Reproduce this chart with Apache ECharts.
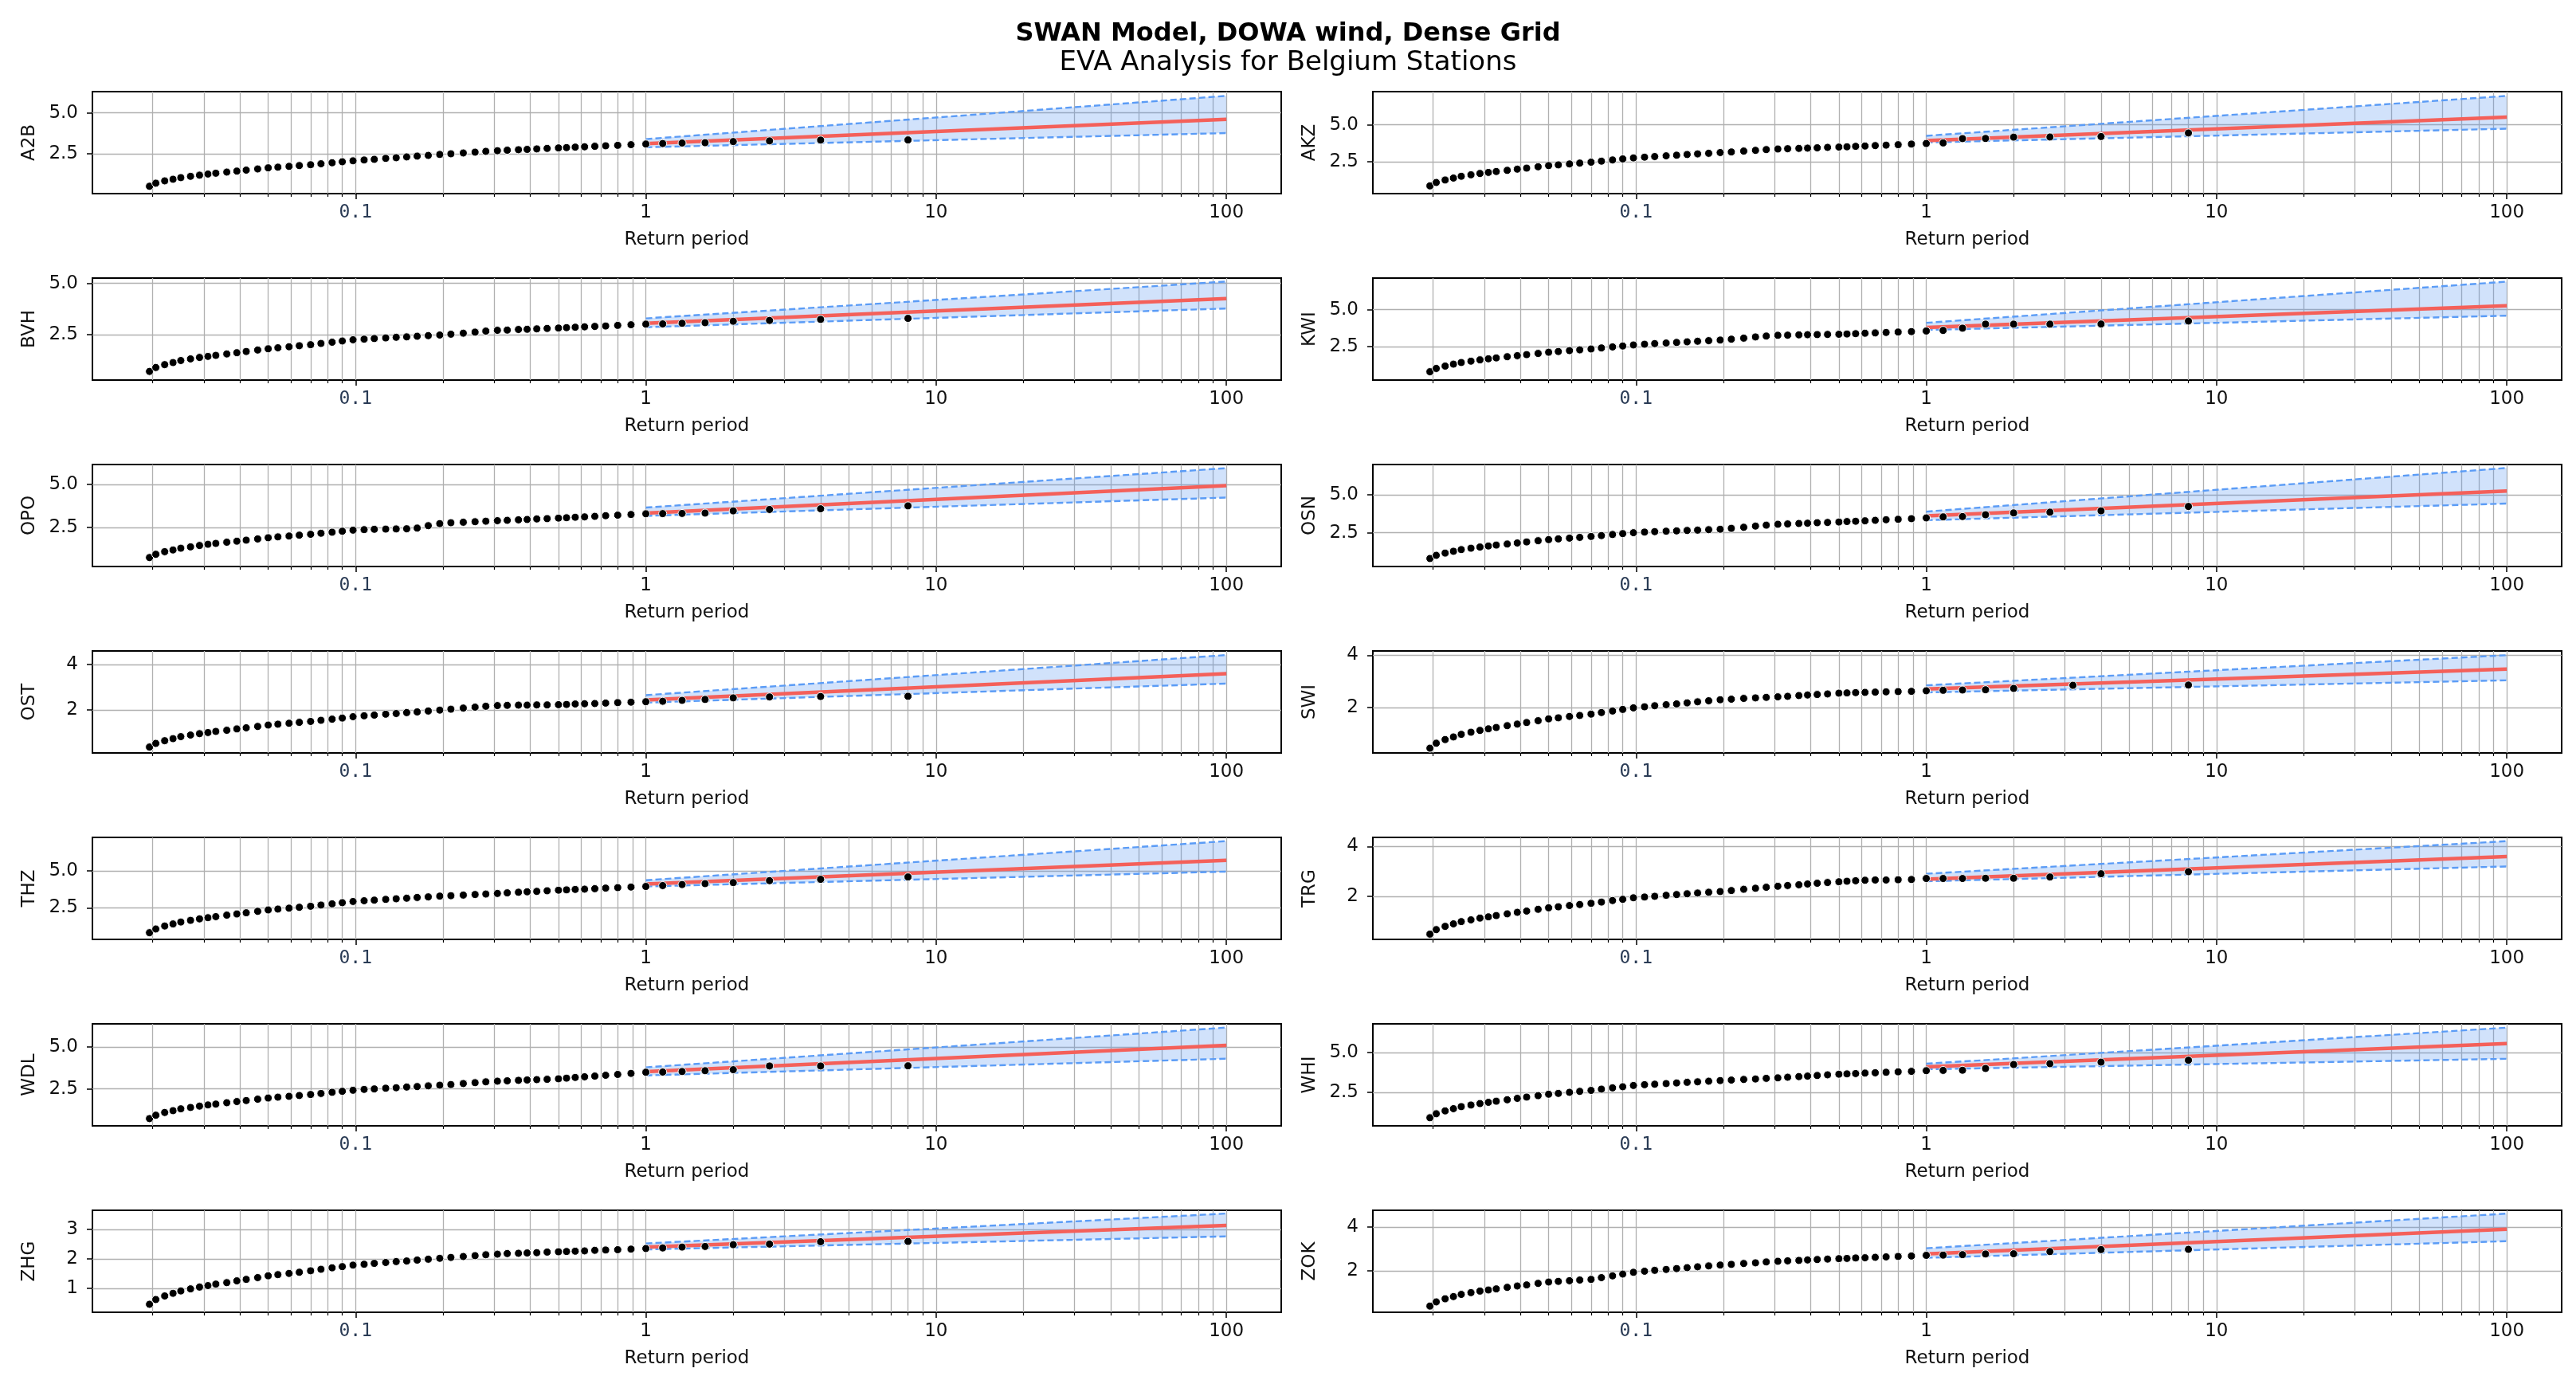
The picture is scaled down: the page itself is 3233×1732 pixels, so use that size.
<!DOCTYPE html>
<html>
<head>
<meta charset="utf-8">
<title>EVA Analysis for Belgium Stations</title>
<script src="https://cdn.jsdelivr.net/npm/echarts@6/dist/echarts.min.js"></script>
<style>
html, body { margin: 0; padding: 0; background: #fff; }
#chart { width: 3233px; height: 1732px; }
</style>
</head>
<body>
<div id="chart"></div>
<script>
// stations, row-major (2 columns)
var stations = ['A2B', 'AKZ', 'BVH', 'KWI', 'OPO', 'OSN', 'OST', 'SWI', 'THZ', 'TRG', 'WDL', 'WHI', 'ZHG', 'ZOK'];

// empirical return periods of the plotted points
var returnPeriods = [
  0.0195, 0.0205, 0.022, 0.0235, 0.025, 0.027, 0.029, 0.031,
  0.033, 0.036, 0.039, 0.042, 0.046, 0.05, 0.054, 0.059,
  0.064, 0.07, 0.076, 0.083, 0.09, 0.098, 0.107, 0.116,
  0.127, 0.138, 0.15, 0.163, 0.178, 0.195, 0.213, 0.235,
  0.258, 0.281, 0.308, 0.333, 0.364, 0.39, 0.421, 0.457,
  0.5, 0.533, 0.571, 0.615, 0.667, 0.727, 0.8, 0.889,
  1, 1.143, 1.333, 1.6, 2, 2.667, 4, 8
];
// SWI has tied ranks 2 and 3
var returnPeriodsSWI = [
  0.0195, 0.0205, 0.022, 0.0235, 0.025, 0.027, 0.029, 0.031,
  0.033, 0.036, 0.039, 0.042, 0.046, 0.05, 0.054, 0.059,
  0.064, 0.07, 0.076, 0.083, 0.09, 0.098, 0.107, 0.116,
  0.127, 0.138, 0.15, 0.163, 0.178, 0.195, 0.213, 0.235,
  0.258, 0.281, 0.308, 0.333, 0.364, 0.39, 0.421, 0.457,
  0.5, 0.533, 0.571, 0.615, 0.667, 0.727, 0.8, 0.889,
  1, 1.143, 1.333, 1.6, 2, 3.2, 3.2, 8
];

var valA2B = [0.50,0.69,0.83,0.93,1.03,1.11,1.18,1.25, 1.30,1.37,1.43,1.49,1.56,1.63,1.67,1.72, 1.77,1.82,1.88,1.94,2.00,2.06,2.11,2.15, 2.21,2.25,2.30,2.35,2.39,2.45,2.49,2.54, 2.59,2.64,2.68,2.71,2.74,2.76,2.79,2.82, 2.85,2.87,2.90,2.92,2.95,2.98,3.01,3.05, 3.09,3.12,3.15,3.17,3.24,3.28,3.33,3.34];
var valAKZ = [0.88,1.11,1.28,1.41,1.53,1.63,1.72,1.79, 1.85,1.93,2.01,2.08,2.17,2.25,2.30,2.36, 2.42,2.48,2.55,2.63,2.70,2.77,2.82,2.86, 2.91,2.95,3.00,3.04,3.08,3.13,3.17,3.23, 3.28,3.33,3.37,3.39,3.41,3.43,3.45,3.48, 3.50,3.52,3.55,3.57,3.60,3.63,3.66,3.70, 3.74,3.78,4.07,4.08,4.17,4.18,4.21,4.45];
var valBVH = [0.72,0.91,1.05,1.15,1.25,1.33,1.40,1.45, 1.50,1.57,1.63,1.69,1.76,1.82,1.87,1.92, 1.97,2.02,2.08,2.14,2.20,2.26,2.29,2.32, 2.35,2.38,2.40,2.43,2.46,2.49,2.53,2.58, 2.63,2.68,2.72,2.73,2.76,2.77,2.79,2.81, 2.83,2.85,2.87,2.89,2.91,2.93,2.96,2.99, 3.02,3.03,3.06,3.09,3.16,3.20,3.25,3.30];
var valKWI = [0.82,1.04,1.20,1.33,1.44,1.53,1.62,1.69, 1.75,1.83,1.90,1.97,2.05,2.13,2.18,2.24, 2.29,2.35,2.42,2.49,2.55,2.62,2.67,2.71, 2.75,2.79,2.83,2.87,2.91,2.95,3.01,3.08, 3.16,3.22,3.27,3.28,3.30,3.31,3.32,3.33, 3.34,3.36,3.38,3.41,3.43,3.46,3.49,3.52, 3.56,3.60,3.75,4.02,4.02,4.02,4.03,4.23];
var valOPO = [0.75,0.94,1.09,1.19,1.29,1.37,1.45,1.52, 1.57,1.64,1.70,1.76,1.83,1.90,1.95,2.00, 2.05,2.10,2.16,2.22,2.28,2.34,2.37,2.39, 2.40,2.41,2.42,2.46,2.60,2.72,2.77,2.80, 2.83,2.86,2.89,2.91,2.94,2.96,2.99,3.01, 3.04,3.06,3.09,3.11,3.14,3.18,3.21,3.25, 3.29,3.30,3.31,3.33,3.46,3.54,3.58,3.75];
var valOSN = [0.79,1.00,1.15,1.27,1.38,1.47,1.55,1.62, 1.68,1.75,1.82,1.89,1.97,2.04,2.09,2.14, 2.19,2.25,2.31,2.38,2.44,2.50,2.54,2.57, 2.60,2.62,2.65,2.67,2.70,2.73,2.79,2.86, 2.94,3.00,3.06,3.08,3.11,3.13,3.16,3.18, 3.21,3.24,3.26,3.29,3.32,3.36,3.39,3.43, 3.48,3.55,3.57,3.69,3.81,3.86,3.95,4.24];
var valOST = [0.36,0.52,0.64,0.73,0.82,0.89,0.95,1.00, 1.05,1.10,1.16,1.21,1.27,1.33,1.37,1.41, 1.45,1.49,1.54,1.59,1.64,1.70,1.74,1.77, 1.81,1.84,1.88,1.91,1.95,1.99,2.03,2.08, 2.12,2.16,2.19,2.20,2.21,2.21,2.22,2.22, 2.23,2.24,2.26,2.27,2.28,2.30,2.32,2.34, 2.36,2.38,2.42,2.46,2.53,2.57,2.59,2.60];
var valSWI = [0.45,0.64,0.78,0.88,0.98,1.06,1.13,1.19, 1.24,1.31,1.37,1.43,1.50,1.57,1.61,1.66, 1.70,1.75,1.81,1.87,1.93,1.99,2.03,2.07, 2.11,2.14,2.18,2.22,2.26,2.30,2.32,2.35, 2.37,2.39,2.41,2.43,2.46,2.48,2.50,2.52, 2.55,2.56,2.57,2.58,2.59,2.60,2.61,2.62, 2.64,2.66,2.67,2.68,2.73,2.85,2.85,2.86];
var valTHZ = [0.83,1.08,1.28,1.42,1.55,1.66,1.76,1.84, 1.91,2.01,2.09,2.17,2.27,2.36,2.42,2.48, 2.54,2.61,2.69,2.77,2.85,2.93,2.98,3.02, 3.07,3.11,3.15,3.20,3.24,3.29,3.32,3.36, 3.40,3.43,3.47,3.51,3.55,3.58,3.61,3.65, 3.69,3.71,3.74,3.76,3.79,3.83,3.86,3.90, 3.94,4.00,4.07,4.13,4.20,4.33,4.42,4.58];
var valTRG = [0.50,0.68,0.81,0.91,1.00,1.07,1.14,1.19, 1.24,1.31,1.37,1.42,1.49,1.55,1.59,1.64, 1.68,1.73,1.78,1.84,1.89,1.95,1.98,2.01, 2.05,2.08,2.11,2.14,2.17,2.20,2.24,2.29, 2.33,2.37,2.41,2.44,2.47,2.50,2.53,2.56, 2.59,2.61,2.63,2.65,2.66,2.66,2.67,2.68, 2.72,2.72,2.72,2.73,2.73,2.78,2.91,2.99];
var valWDL = [0.74,0.94,1.10,1.21,1.32,1.40,1.48,1.55, 1.60,1.68,1.75,1.81,1.89,1.96,2.01,2.06, 2.11,2.17,2.23,2.30,2.36,2.42,2.47,2.50, 2.54,2.57,2.61,2.64,2.68,2.72,2.76,2.82, 2.87,2.92,2.96,2.98,3.01,3.03,3.05,3.07, 3.10,3.14,3.18,3.22,3.26,3.31,3.36,3.42, 3.49,3.50,3.53,3.58,3.64,3.86,3.86,3.87];
var valWHI = [0.90,1.15,1.33,1.47,1.60,1.70,1.79,1.87, 1.94,2.03,2.12,2.20,2.29,2.38,2.43,2.50, 2.56,2.62,2.70,2.78,2.85,2.93,2.98,3.01, 3.05,3.09,3.13,3.16,3.20,3.24,3.27,3.31, 3.34,3.38,3.41,3.45,3.49,3.52,3.56,3.60, 3.64,3.66,3.68,3.71,3.73,3.76,3.79,3.82, 3.86,3.88,3.89,4.00,4.25,4.30,4.40,4.52];
var valZHG = [0.47,0.63,0.75,0.84,0.92,0.99,1.05,1.10, 1.15,1.20,1.26,1.31,1.37,1.43,1.47,1.51, 1.55,1.60,1.65,1.70,1.74,1.79,1.82,1.85, 1.88,1.91,1.93,1.96,1.99,2.02,2.05,2.08, 2.11,2.14,2.16,2.18,2.19,2.20,2.21,2.23, 2.24,2.25,2.26,2.27,2.29,2.30,2.31,2.33, 2.35,2.37,2.40,2.42,2.48,2.50,2.58,2.59];
var valZOK = [0.41,0.60,0.74,0.84,0.94,1.02,1.09,1.14, 1.19,1.26,1.32,1.37,1.44,1.50,1.53,1.56, 1.59,1.62,1.70,1.78,1.86,1.94,1.99,2.03, 2.07,2.11,2.15,2.19,2.23,2.27,2.30,2.34, 2.37,2.41,2.44,2.46,2.48,2.50,2.52,2.54, 2.56,2.57,2.59,2.60,2.62,2.64,2.66,2.68, 2.71,2.72,2.74,2.77,2.78,2.88,2.97,2.98];

// fitted return level and confidence bounds, at T = 1 and T = 100
var fitPeriods = [1, 100];
var fitStart   = [3.11, 3.93, 3.06, 3.80, 3.33, 3.62, 2.44, 2.71, 4.10, 2.69, 3.52, 4.10, 2.40, 2.77];
var fitEnd     = [4.60, 5.52, 4.26, 5.26, 4.92, 5.26, 3.60, 3.47, 5.70, 3.60, 5.08, 5.57, 3.13, 3.89];
var upperStart = [3.39, 4.26, 3.30, 4.11, 3.65, 3.90, 2.65, 2.85, 4.36, 2.91, 3.78, 4.30, 2.52, 3.03];
var upperEnd   = [6.04, 6.95, 5.09, 6.88, 5.94, 6.79, 4.42, 4.00, 6.99, 4.21, 6.14, 6.57, 3.53, 4.60];
var lowerStart = [2.89, 3.81, 2.87, 3.63, 3.17, 3.33, 2.32, 2.58, 3.94, 2.61, 3.30, 3.95, 2.32, 2.60];
var lowerEnd   = [3.76, 4.74, 3.78, 4.59, 4.23, 4.43, 3.16, 3.04, 4.94, 3.20, 4.29, 4.61, 2.76, 3.35];

// axis ranges and tick labels
var yMin = [0.05, 0.36, 0.30, 0.26, 0.23, 0.26, 0.10, 0.27, 0.38, 0.29, 0.31, 0.39, 0.20, 0.13];
var yMax = [6.30, 7.24, 5.26, 7.12, 6.15, 7.02, 4.60, 4.16, 7.24, 4.36, 6.36, 6.81, 3.64, 4.75];
var yTicks = [[2.5, 5], [2.5, 5], [2.5, 5], [2.5, 5], [2.5, 5], [2.5, 5], [2, 4], [2, 4],
              [2.5, 5], [2, 4], [2.5, 5], [2.5, 5], [1, 2, 3], [2, 4]];
var xMajorTicks = [0.1, 1, 10, 100];
var xMinorTicks = [0.02, 0.03, 0.04, 0.05, 0.06, 0.07, 0.08, 0.09,
                   0.2, 0.3, 0.4, 0.5, 0.6, 0.7, 0.8, 0.9,
                   2, 3, 4, 5, 6, 7, 8, 9,
                   20, 30, 40, 50, 60, 70, 80, 90];

var stationValues = [valA2B, valAKZ, valBVH, valKWI, valOPO, valOSN, valOST, valSWI,
                     valTHZ, valTRG, valWDL, valWHI, valZHG, valZOK];

var FONT = 'DejaVu Sans';
var GRIDLINE = {show: true, lineStyle: {color: '#b0b0b0', width: 1.3}};
var BAND = 'rgba(90,150,240,0.28)';
var DASH = '#5b9cf6';

// confidence band: polygon between the lower and upper bound, placed through the axes
function renderBand(params, api) {
    var p = [
        api.coord([api.value(0), api.value(1)]),
        api.coord([api.value(3), api.value(4)]),
        api.coord([api.value(3), api.value(5)]),
        api.coord([api.value(0), api.value(2)])
    ];
    return {type: 'polygon', shape: {points: p}, style: {fill: BAND}, silent: true};
}

var grids = [], xAxes = [], yAxes = [], series = [];

stations.forEach(function (name, k) {
    var row = Math.floor(k / 2), col = k % 2;
    grids.push({
        left: col ? 1723 : 116,
        top: 115 + 234 * row,
        width: 1492,
        height: 128,
        show: true,
        borderColor: '#000',
        borderWidth: 2
    });

    // major decades: labels + long ticks
    xAxes.push({
        type: 'log', logBase: 10, gridIndex: k, position: 'bottom',
        min: 0.0124, max: 154.5,
        name: 'Return period', nameLocation: 'middle', nameGap: 47,
        nameTextStyle: {fontFamily: FONT, fontSize: 23, color: '#111'},
        axisLine: {show: false},
        axisTick: {show: true, length: 7, customValues: xMajorTicks, lineStyle: {color: '#000', width: 1.5}},
        axisLabel: {
            customValues: xMajorTicks, margin: 13,
            fontFamily: FONT, fontSize: 23, color: '#111',
            formatter: function (v) { return v < 0.5 ? '{mono|0.1}' : String(v); },
            rich: {mono: {fontFamily: 'DejaVu Sans Mono', fontSize: 23, color: '#2a3b55'}}
        },
        splitLine: GRIDLINE
    });
    // minor ticks
    xAxes.push({
        type: 'log', logBase: 10, gridIndex: k, position: 'bottom',
        min: 0.0124, max: 154.5,
        axisLine: {show: false},
        axisTick: {show: true, length: 4, customValues: xMinorTicks, lineStyle: {color: '#000', width: 1.2}},
        axisLabel: {show: false},
        splitLine: GRIDLINE
    });

    var decimals = yTicks[k].some(function (t) { return t % 1 !== 0; });
    yAxes.push({
        type: 'value', gridIndex: k, min: yMin[k], max: yMax[k],
        name: name, nameLocation: 'middle', nameGap: 67, nameRotate: 90,
        nameTextStyle: {fontFamily: FONT, fontSize: 23, color: '#111'},
        axisLine: {show: false},
        axisTick: {show: true, length: 7, customValues: yTicks[k], lineStyle: {color: '#000', width: 1.5}},
        axisLabel: {
            customValues: yTicks[k], margin: 18,
            fontFamily: FONT, fontSize: 23, color: '#111',
            formatter: function (v) { return decimals ? v.toFixed(1) : String(v); }
        },
        splitLine: GRIDLINE
    });

    var xi = 2 * k;
    var lo = [[fitPeriods[0], lowerStart[k]], [fitPeriods[1], lowerEnd[k]]];
    var hi = [[fitPeriods[0], upperStart[k]], [fitPeriods[1], upperEnd[k]]];
    var fit = [[fitPeriods[0], fitStart[k]], [fitPeriods[1], fitEnd[k]]];
    var band = [[fitPeriods[0], lowerStart[k], upperStart[k], fitPeriods[1], lowerEnd[k], upperEnd[k]]];
    var rp = name === 'SWI' ? returnPeriodsSWI : returnPeriods;
    var pts = rp.map(function (t, i) { return [t, stationValues[k][i]]; });

    series.push(
        {type: 'custom', xAxisIndex: xi, yAxisIndex: k, data: band, renderItem: renderBand,
         encode: {x: [0, 3], y: [1, 2, 4, 5]}, silent: true, z: 2},
        {type: 'line', xAxisIndex: xi, yAxisIndex: k, data: lo, symbol: 'none',
         lineStyle: {color: DASH, width: 2.4, type: [8, 4]}, z: 3},
        {type: 'line', xAxisIndex: xi, yAxisIndex: k, data: hi, symbol: 'none',
         lineStyle: {color: DASH, width: 2.4, type: [8, 4]}, z: 3},
        {type: 'line', xAxisIndex: xi, yAxisIndex: k, data: fit, symbol: 'none',
         lineStyle: {color: '#f4605a', width: 4.5}, z: 4},
        {type: 'scatter', xAxisIndex: xi, yAxisIndex: k, data: pts, symbolSize: 10,
         itemStyle: {color: '#000', borderColor: '#fff', borderWidth: 1, opacity: 1}, z: 5}
    );
});

var myChart = echarts.init(document.getElementById('chart'));
myChart.setOption({
    animation: false,
    backgroundColor: '#fff',
    title: {
        text: 'SWAN Model, DOWA wind, Dense Grid',
        subtext: 'EVA Analysis for Belgium Stations',
        left: 'center', top: 22, itemGap: 3,
        textStyle: {fontFamily: FONT, fontSize: 32, fontWeight: 'bold', color: '#000'},
        subtextStyle: {fontFamily: FONT, fontSize: 34, color: '#000'}
    },
    grid: grids,
    xAxis: xAxes,
    yAxis: yAxes,
    series: series
});
</script>
</body>
</html>
